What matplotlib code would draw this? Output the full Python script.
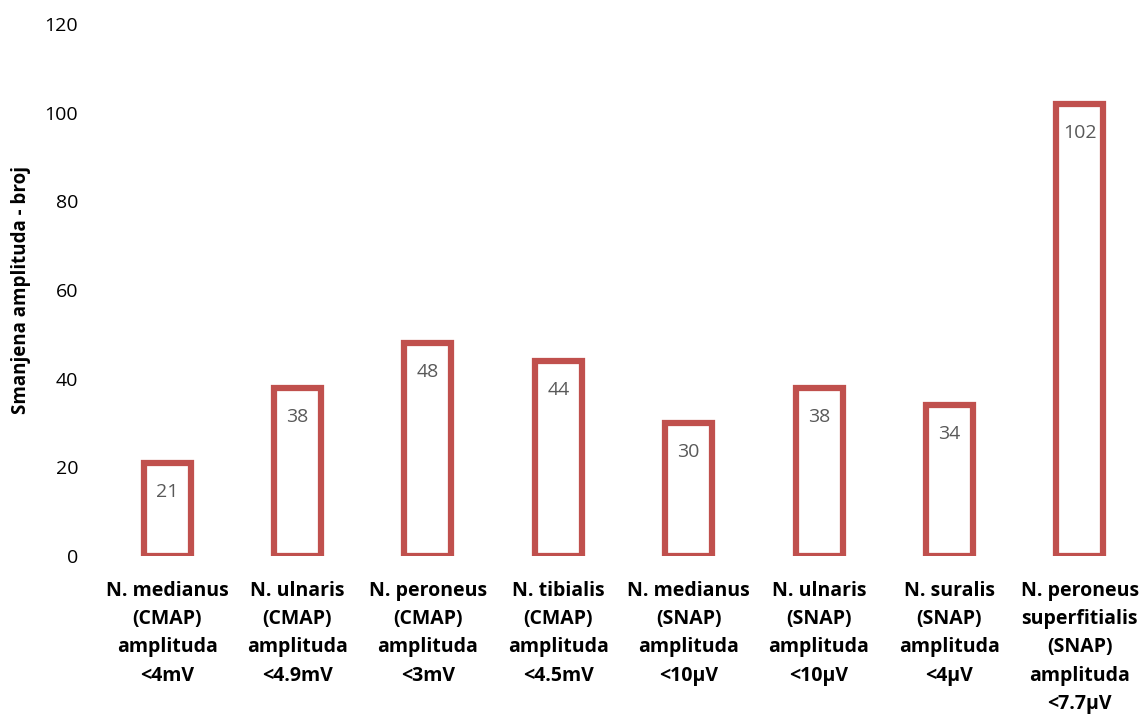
import numpy as np
import matplotlib.pyplot as plt

plt.rcParams['font.family'] = ['Open Sans', 'DejaVu Sans']

categories = [
    "N. medianus\n(CMAP)\namplituda\n<4mV",
    "N. ulnaris\n(CMAP)\namplituda\n<4.9mV",
    "N. peroneus\n(CMAP)\namplituda\n<3mV",
    "N. tibialis\n(CMAP)\namplituda\n<4.5mV",
    "N. medianus\n(SNAP)\namplituda\n<10\u00b5V",
    "N. ulnaris\n(SNAP)\namplituda\n<10\u00b5V",
    "N. suralis\n(SNAP)\namplituda\n<4\u00b5V",
    "N. peroneus\nsuperfitialis\n(SNAP)\namplituda\n<7.7\u00b5V",
]
values = [21, 38, 48, 44, 30, 38, 34, 102]
yticks = [0, 20, 40, 60, 80, 100, 120]

BAR_COLOR = '#C0504D'

fig = plt.figure(figsize=(11.45, 7.16), dpi=100)
ax = fig.add_axes([0.089, 0.2235, 0.911, 0.743])

x = np.arange(len(values))
ax.bar(x, values, width=0.36, facecolor='white', edgecolor=BAR_COLOR,
       linewidth=4.5)

# value labels just inside the top of each bar
for xi, v in zip(x, values):
    ax.annotate(str(v), (xi, v), xytext=(0, -21), textcoords='offset points',
                ha='center', va='center', fontsize=14, color='#595959')

ax.set_xlim(-0.5, len(values) - 0.5)
ax.set_ylim(0, 120)
ax.set_yticks(yticks)
ax.set_xticks(x)
ax.set_xticklabels(categories, fontweight='bold', fontsize=14,
                   linespacing=1.55, va='top')
ax.tick_params(axis='both', length=0, labelsize=14)
ax.tick_params(axis='y', pad=17)
ax.tick_params(axis='x', pad=18)
for s in ax.spines.values():
    s.set_visible(False)

ax.set_ylabel('Smanjena amplituda - broj', fontweight='bold', fontsize=13.5)
ax.yaxis.set_label_coords(-0.068, 0.5)

fig.savefig('out.png', dpi=100)
